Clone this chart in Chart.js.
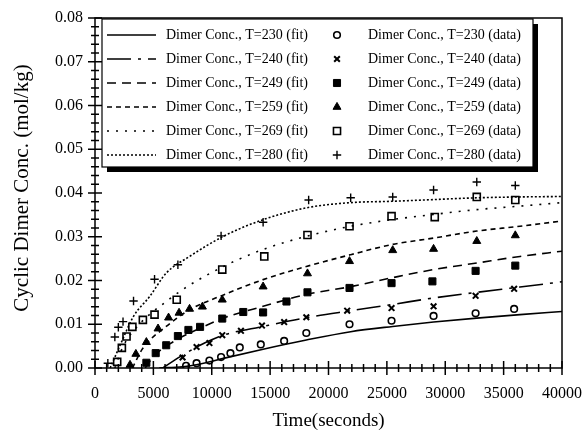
<!DOCTYPE html>
<html>
<head>
<meta charset="utf-8">
<script src="https://cdn.jsdelivr.net/npm/chart.js@4/dist/chart.umd.min.js"></script>
<style>
  body { margin: 0; background: #fff; }
  #wrap { width: 584px; height: 434px; }
</style>
</head>
<body>
<div id="wrap"><canvas id="grafico" width="584" height="434"></canvas></div>
<script>
// temperatures of the runs
const temps = [230, 240, 249, 259, 269, 280];

// measured points (time in s, conc in mol/kg)
const t230 = [7800, 8700, 9800, 10800, 11600, 12400, 14200, 16200, 18100, 21800, 25400, 29000, 32600, 35900];
const c230 = [0.0005, 0.0011, 0.0017, 0.0025, 0.0034, 0.0047, 0.0054, 0.0062, 0.0080, 0.0100, 0.0108, 0.0119, 0.0125, 0.0135];
const t240 = [7500, 8700, 9800, 10900, 12500, 14300, 16200, 18100, 21600, 25400, 29000, 32600, 35900];
const c240 = [0.0024, 0.0048, 0.0057, 0.0075, 0.0085, 0.0097, 0.0105, 0.0116, 0.0131, 0.0137, 0.0141, 0.0165, 0.0181];
const t249 = [4400, 5200, 6100, 7100, 8000, 9000, 10900, 12700, 14400, 16400, 18200, 21800, 25400, 28900, 32600, 36000];
const c249 = [0.0012, 0.0034, 0.0052, 0.0073, 0.0087, 0.0094, 0.0113, 0.0128, 0.0127, 0.0152, 0.0173, 0.0183, 0.0194, 0.0198, 0.0222, 0.0234];
const t259 = [3000, 3500, 4400, 5400, 6300, 7200, 8100, 9200, 10900, 14400, 18200, 21800, 25500, 29000, 32700, 36000];
const c259 = [0.0007, 0.0032, 0.0059, 0.0090, 0.0115, 0.0126, 0.0135, 0.0140, 0.0156, 0.0186, 0.0216, 0.0244, 0.0269, 0.0272, 0.0290, 0.0303];
const t269 = [1900, 2300, 2700, 3200, 4100, 5100, 7000, 10900, 14500, 18200, 21800, 25400, 29100, 32700, 36000];
const c269 = [0.0014, 0.0046, 0.0072, 0.0094, 0.0110, 0.0122, 0.0156, 0.0225, 0.0255, 0.0304, 0.0324, 0.0347, 0.0345, 0.0391, 0.0384];
const t280 = [1100, 1700, 2000, 2400, 3300, 5100, 7100, 10800, 14400, 18300, 21900, 25500, 29000, 32700, 36000];
const c280 = [0.0011, 0.0071, 0.0093, 0.0106, 0.0153, 0.0203, 0.0236, 0.0302, 0.0333, 0.0384, 0.0389, 0.0391, 0.0407, 0.0425, 0.0417];

// fitted curves
const ft230 = [5500, 7500, 9300, 11000, 14400, 18100, 21900, 25500, 29000, 32700, 36400, 40000];
const fc230 = [0, 0.0003, 0.0011, 0.0022, 0.0043, 0.0064, 0.0083, 0.0095, 0.0105, 0.0114, 0.0122, 0.0129];
const ft240 = [5800, 7300, 9000, 11000, 14400, 18100, 21900, 25400, 29000, 32700, 36400, 40000];
const fc240 = [0, 0.0026, 0.0052, 0.0075, 0.0095, 0.0115, 0.0131, 0.0145, 0.0160, 0.0173, 0.0185, 0.0197];
const ft249 = [4300, 5000, 6700, 9000, 11000, 14400, 18100, 21900, 25400, 29000, 32700, 36400, 40000];
const fc249 = [0, 0.0026, 0.0060, 0.0091, 0.0114, 0.0141, 0.0168, 0.0186, 0.0206, 0.0225, 0.0240, 0.0255, 0.0267];
const ft259 = [3200, 4100, 6100, 8100, 11000, 14400, 18100, 21900, 25400, 29000, 32700, 36400, 40000];
const fc259 = [0, 0.0045, 0.0095, 0.0133, 0.0167, 0.0202, 0.0232, 0.0259, 0.0282, 0.0297, 0.0313, 0.0324, 0.0336];
const ft269 = [1700, 2400, 3900, 5900, 7900, 11000, 14400, 18100, 21900, 25400, 29000, 32700, 36400, 40000];
const fc269 = [0, 0.0049, 0.0103, 0.0148, 0.0186, 0.0232, 0.0271, 0.0301, 0.0324, 0.0339, 0.0351, 0.0362, 0.0370, 0.0378];
const ft280 = [1300, 2100, 3300, 4700, 6100, 8100, 11000, 14400, 18100, 21900, 25400, 29000, 32700, 36400, 40000];
const fc280 = [0, 0.0049, 0.0118, 0.0164, 0.0217, 0.0255, 0.0301, 0.0339, 0.0366, 0.0378, 0.0381, 0.0385, 0.0389, 0.0391, 0.0392];

const xTicks = [0, 5000, 10000, 15000, 20000, 25000, 30000, 35000, 40000];
const yTicks = [0, 0.01, 0.02, 0.03, 0.04, 0.05, 0.06, 0.07, 0.08];
const yTitle = 'Cyclic Dimer Conc. (mol/kg)';

const serif = 'Liberation Serif';
const toPts = (xs, ys) => xs.map((x, i) => ({ x: x, y: ys[i] }));

const dataSets = [[t230, c230], [t240, c240], [t249, c249], [t259, c259], [t269, c269], [t280, c280]];
const fitSets = [[ft230, fc230], [ft240, fc240], [ft249, fc249], [ft259, fc259], [ft269, fc269], [ft280, fc280]];

const dashes = [[], [24, 7, 3, 7], [9, 6], [5, 4], [2, 7], [2, 2]];
const marks = [
  { style: 'circle', r: 3.3, fill: '#fff', bw: 1.6 },
  { style: 'crossRot', r: 4, fill: '#000', bw: 2 },
  { style: 'rect', r: 5, fill: '#000', bw: 1 },
  { style: 'triangle', r: 4.6, fill: '#000', bw: 1 },
  { style: 'rect', r: 5, fill: '#fff', bw: 1.6 },
  { style: 'cross', r: 4.2, fill: '#000', bw: 1.4 },
];

const datasets = [];
temps.forEach((T, i) => {
  datasets.push({
    label: 'Dimer Conc., T=' + T + ' (fit)',
    data: toPts(fitSets[i][0], fitSets[i][1]),
    showLine: true,
    borderColor: '#000',
    borderWidth: 1.6,
    borderDash: dashes[i],
    pointRadius: 0,
    cubicInterpolationMode: 'monotone',
    fill: false,
  });
});
temps.forEach((T, i) => {
  datasets.push({
    label: 'Dimer Conc., T=' + T + ' (data)',
    data: toPts(dataSets[i][0], dataSets[i][1]),
    showLine: false,
    pointStyle: marks[i].style,
    pointRadius: marks[i].r,
    pointBackgroundColor: marks[i].fill,
    pointBorderColor: '#000',
    pointBorderWidth: marks[i].bw,
  });
});

// frame, ticks that cross the axes, y title
const framePlugin = {
  id: 'frame',
  afterDraw(chart) {
    const ctx = chart.ctx;
    const a = chart.chartArea;
    const xs = chart.scales.x;
    const ys = chart.scales.y;
    ctx.save();
    ctx.strokeStyle = '#000';
    ctx.lineWidth = 1.5;
    ctx.strokeRect(a.left, a.top, a.right - a.left, a.bottom - a.top);
    for (let v = 0; v <= 40000; v += 1000) {
      const px = xs.getPixelForValue(v);
      const len = v % 5000 === 0 ? 7 : 4;
      ctx.beginPath();
      ctx.moveTo(px, a.bottom - len);
      ctx.lineTo(px, a.bottom + len);
      ctx.stroke();
    }
    for (let k = 0; k <= 40; k++) {
      const py = ys.getPixelForValue(k * 0.002);
      const len = k % 5 === 0 ? 7 : 4;
      ctx.beginPath();
      ctx.moveTo(a.left - len, py);
      ctx.lineTo(a.left + len, py);
      ctx.stroke();
    }
    ctx.translate(22, 188);
    ctx.rotate(-Math.PI / 2);
    ctx.fillStyle = '#000';
    ctx.font = '21px "' + serif + '"';
    ctx.textAlign = 'center';
    ctx.textBaseline = 'middle';
    ctx.fillText(yTitle, 0, 0);
    ctx.restore();
  },
};

// two column legend box with a drop shadow
const legendPlugin = {
  id: 'boxLegend',
  afterDraw(chart) {
    const ctx = chart.ctx;
    const a = chart.chartArea;
    const left = a.left + 7;
    const top = a.top + 1;
    const right = 533;
    const bottom = 167;
    ctx.save();
    ctx.fillStyle = '#000';
    ctx.fillRect(left + 5, top + 5, right - left, bottom - top);
    ctx.fillStyle = '#fff';
    ctx.fillRect(left, top, right - left, bottom - top);
    ctx.strokeStyle = '#000';
    ctx.lineWidth = 1.2;
    ctx.strokeRect(left, top, right - left, bottom - top);

    ctx.font = '14px "' + serif + '"';
    ctx.textBaseline = 'middle';
    ctx.textAlign = 'left';
    temps.forEach((T, i) => {
      const y = 35 + i * 24;
      const fit = chart.data.datasets[i];
      const dat = chart.data.datasets[i + temps.length];
      ctx.strokeStyle = '#000';
      ctx.lineWidth = 1.5;
      ctx.setLineDash(fit.borderDash);
      ctx.beginPath();
      ctx.moveTo(left + 5, y);
      ctx.lineTo(left + 54, y);
      ctx.stroke();
      ctx.setLineDash([]);
      ctx.fillStyle = '#000';
      ctx.fillText(fit.label, left + 64, y);
      ctx.fillStyle = dat.pointBackgroundColor;
      ctx.lineWidth = dat.pointBorderWidth;
      Chart.helpers.drawPoint(ctx, {
        pointStyle: dat.pointStyle,
        radius: dat.pointRadius,
        borderWidth: dat.pointBorderWidth,
        rotation: 0,
      }, left + 235, y);
      ctx.fillStyle = '#000';
      ctx.fillText(dat.label, left + 266, y);
    });
    ctx.restore();
  },
};

new Chart(document.getElementById('grafico'), {
  type: 'scatter',
  data: { datasets: datasets },
  options: {
    responsive: false,
    animation: false,
    layout: { padding: { top: 18, right: 22, left: 0, bottom: 0 } },
    plugins: {
      legend: { display: false },
      tooltip: { enabled: false },
    },
    scales: {
      x: {
        type: 'linear',
        min: 0,
        max: 40000,
        afterFit: (s) => { s.height = 66; s.paddingLeft = 0; s.paddingRight = 0; },
        afterBuildTicks: (s) => { s.ticks = xTicks.map((v) => ({ value: v })); },
        grid: { display: false, drawTicks: false },
        border: { display: false },
        ticks: {
          color: '#000',
          padding: 16,
          maxRotation: 0,
          font: { family: serif, size: 16 },
          callback: (v) => String(v),
        },
        title: {
          display: true,
          text: 'Time(seconds)',
          color: '#000',
          font: { family: serif, size: 19 },
          padding: { top: 0, bottom: 2 },
        },
      },
      y: {
        type: 'linear',
        min: 0,
        max: 0.08,
        afterFit: (s) => { s.width = 95; s.paddingTop = 0; s.paddingBottom = 0; },
        afterBuildTicks: (s) => { s.ticks = yTicks.map((v) => ({ value: v })); },
        grid: { display: false, drawTicks: false },
        border: { display: false },
        ticks: {
          color: '#000',
          padding: 12,
          font: { family: serif, size: 16 },
          callback: (v) => v.toFixed(2),
        },
      },
    },
  },
  plugins: [framePlugin, legendPlugin],
});
</script>
</body>
</html>
